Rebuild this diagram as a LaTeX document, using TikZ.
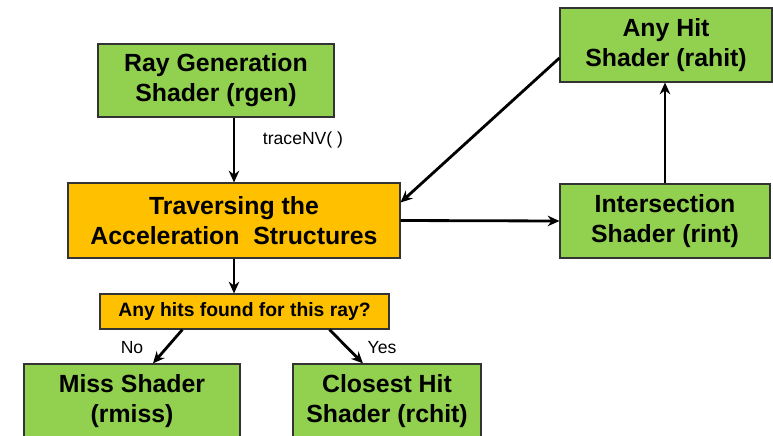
\documentclass[tikz,border=0pt]{standalone}
\usepackage{fontspec}
\setmainfont{Liberation Sans}
\usetikzlibrary{arrows.meta,calc}

\definecolor{shadergreen}{RGB}{146,208,80}
\definecolor{travgold}{RGB}{255,192,0}

\tikzset{
	shaderbox/.style={draw=black!80, line width=1pt, fill=shadergreen, align=center,
		font=\fontsize{21.2}{25.5}\selectfont\bfseries, inner sep=0pt},
	travbox/.style={shaderbox, fill=travgold},
	arr/.style={line width=2.4pt, -{Stealth[length=10pt,width=9pt]}},
	lbl/.style={font=\fontsize{15}{18}\selectfont}
}

\begin{document}
\begin{tikzpicture}[x=.3mm,y=-.3mm]
		\clip (0,0) rectangle (773,435);
		\fill[white] (0,0) rectangle (773,435);

		\node[shaderbox, minimum width=70.8mm, minimum height=21.9mm] (rgen) at (216,80.5) {Ray Generation\\Shader (rgen)};
		\node[travbox, minimum width=99.6mm, minimum height=22.5mm] (trav) at (234,220.5) {Traversing the\\Acceleration\ \ Structures};
		\node[travbox, minimum width=86.7mm, minimum height=10.5mm, font=\fontsize{16.5}{19}\selectfont\bfseries] (hits) at (244.5,311.5) {Any hits found for this ray?};
		\node[shaderbox, minimum width=64.8mm, minimum height=22.5mm] (miss) at (132,401.5) {Miss Shader\\(rmiss)};
		\node[shaderbox, minimum width=56.4mm, minimum height=22.5mm] (chit) at (387,401.5) {Closest Hit\\Shader (rchit)};
		\node[shaderbox, minimum width=63.6mm, minimum height=22.2mm] (ahit) at (666,45) {Any Hit\\Shader (rahit)};
		\node[shaderbox, minimum width=63mm, minimum height=22.2mm] (rint) at (665,221) {Intersection\\Shader (rint)};

		\node[lbl] (trace) at (303,140) {traceNV( )};
		\node[lbl] (no) at (132,348) {No};
		\node[lbl] (yes) at (382,348) {Yes};

		\draw[arr] (trav.north |- rgen.south) -- (trav.north);
		\draw[arr] (trav.south) -- (trav.south |- hits.north);
		\draw[arr] ($(hits.south west)+(83,0)$) -- ($(miss.north)+(21,0)$);
		\draw[arr] ($(hits.south west)+(230,0)$) -- ($(chit.north)+(-24,0)$);
		\draw[arr] (trav.east) -- (rint.west);
		\draw[arr] (rint.north) -- (rint.north |- ahit.south);
		\draw[arr] ($(ahit.west)+(0,13)$) -- ($(trav.east)+(0,-18)$);
	\end{tikzpicture}
\end{document}
